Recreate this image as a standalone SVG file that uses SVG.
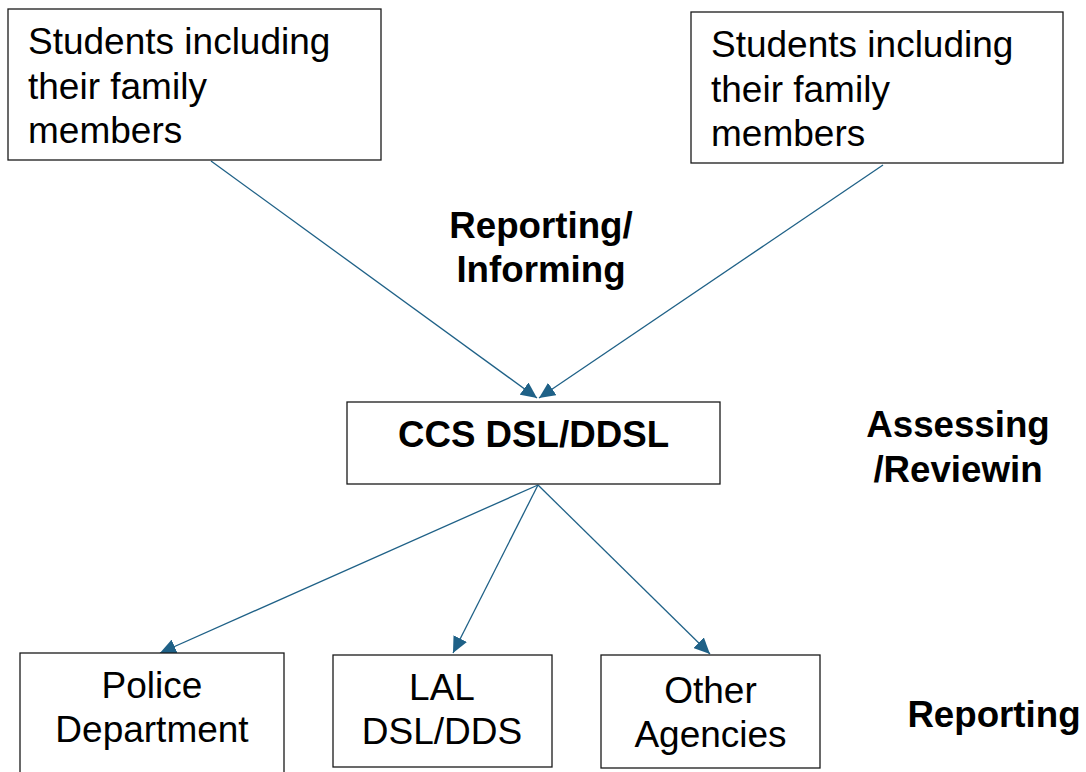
<svg xmlns="http://www.w3.org/2000/svg" width="1086" height="772" viewBox="0 0 1086 772">
<style>
.box{fill:#fff;stroke:#1a1a1a;stroke-width:1.3}
.t{font-family:"Liberation Sans",Arial,sans-serif;font-size:37px;fill:#000}
.b{font-weight:bold;font-size:36.7px}
.c{text-anchor:middle}
.ln{stroke:#1f6187;stroke-width:1.3;fill:none;marker-end:url(#ah)}
</style>
<defs>
<marker id="ah" markerUnits="userSpaceOnUse" markerWidth="17" markerHeight="15" refX="16" refY="7.5" orient="auto">
<path d="M0,0 L16,7.5 L0,15 z" fill="#1f6187"/>
</marker>
</defs>
<rect width="1086" height="772" fill="#fff"/>
<g id="connectors">
<line class="ln" x1="211" y1="161" x2="537" y2="398"/>
<line class="ln" x1="883" y1="165" x2="539" y2="398"/>
<line class="ln" x1="538" y1="485" x2="160" y2="653"/>
<line class="ln" x1="538" y1="485" x2="453" y2="653"/>
<line class="ln" x1="538" y1="485" x2="710" y2="654"/>
</g>
<g id="students-left">
<rect class="box" x="8" y="9" width="373" height="151"/>
<text class="t" x="28" y="54">Students including</text>
<text class="t" x="28" y="98.5">their family</text>
<text class="t" x="28" y="143">members</text>
</g>
<g id="students-right">
<rect class="box" x="691" y="12" width="372" height="151"/>
<text class="t" x="711" y="57">Students including</text>
<text class="t" x="711" y="101.5">their family</text>
<text class="t" x="711" y="146">members</text>
</g>
<g id="label-reporting-informing">
<text class="t b c" x="541" y="238">Reporting/</text>
<text class="t b c" x="541" y="282">Informing</text>
</g>
<g id="ccs">
<rect class="box" x="347" y="402" width="373" height="82"/>
<text class="t b c" x="533.5" y="447">CCS DSL/DDSL</text>
</g>
<g id="label-assessing">
<text class="t b c" x="958" y="437">Assessing</text>
<text class="t b c" x="958" y="482">/Reviewin</text>
</g>
<g id="police">
<rect class="box" x="20" y="653" width="264" height="130"/>
<text class="t c" x="152" y="698">Police</text>
<text class="t c" x="152" y="742">Department</text>
</g>
<g id="lal">
<rect class="box" x="333" y="655" width="219" height="112"/>
<text class="t c" x="442" y="700">LAL</text>
<text class="t c" x="442" y="744">DSL/DDS</text>
</g>
<g id="other">
<rect class="box" x="601" y="655" width="219" height="113"/>
<text class="t c" x="710.5" y="703">Other</text>
<text class="t c" x="710.5" y="747">Agencies</text>
</g>
<g id="label-reporting">
<text class="t b c" x="994" y="727">Reporting</text>
</g>
</svg>
